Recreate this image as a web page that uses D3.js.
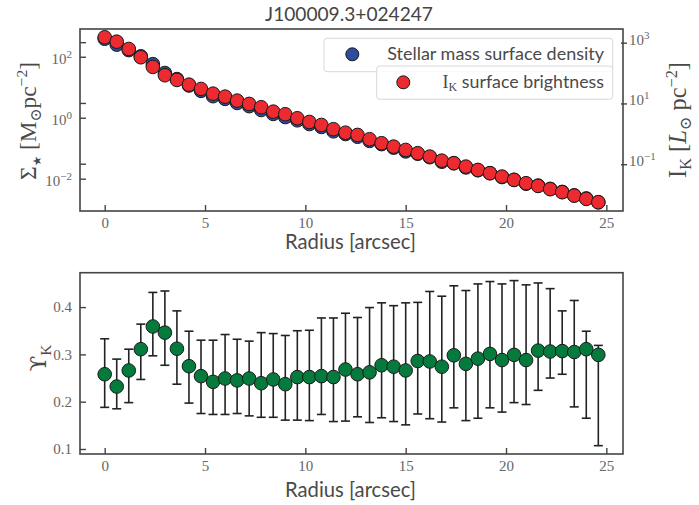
<!DOCTYPE html>
<html><head><meta charset="utf-8">
<script src="https://cdn.jsdelivr.net/npm/d3@7"></script>
<style>
body{margin:0;background:#fff;}
svg{display:block;}
</style></head><body>
<svg id="c" width="699" height="505"></svg>
<script>
const title = "J100009.3+024247";
const radius = [0,0.6,1.2,1.8,2.4,3.0,3.6,4.2,4.8,5.4,6.0,6.6,7.2,7.8,8.4,9.0,9.6,10.2,10.8,11.4,12.0,12.6,13.2,13.8,14.4,15.0,15.6,16.2,16.8,17.4,18.0,18.6,19.2,19.8,20.4,21.0,21.6,22.2,22.8,23.4,24.0,24.6];
const sigmaStar = [389,250,165,103,57.1,29.3,18.5,11.4,7.62,5.08,4.16,3.04,2.40,1.79,1.33,1.05,0.822,0.620,0.498,0.358,0.292,0.237,0.174,0.136,0.104,0.0785,0.0658,0.0507,0.0359,0.0322,0.0234,0.0189,0.0152,0.0113,0.00912,0.00683,0.00594,0.00462,0.00368,0.00283,0.00225,0.00168];
const surfIK = [1507,1079,621,331,159,84.7,59.3,41.5,30.0,21.0,16.7,12.4,9.64,7.50,5.37,4.41,3.26,2.46,1.96,1.42,1.09,0.92,0.664,0.491,0.379,0.295,0.230,0.178,0.131,0.108,0.0834,0.0649,0.0506,0.0391,0.0305,0.0237,0.0193,0.0151,0.0120,0.00927,0.00722,0.00562];
const upsilonK = [0.258,0.232,0.266,0.311,0.359,0.346,0.312,0.275,0.254,0.242,0.249,0.245,0.249,0.239,0.247,0.237,0.252,0.252,0.254,0.252,0.268,0.258,0.262,0.277,0.274,0.266,0.286,0.285,0.274,0.298,0.280,0.291,0.301,0.288,0.299,0.288,0.308,0.306,0.307,0.305,0.311,0.299];
const upsilonHigh = [0.333,0.290,0.311,0.364,0.431,0.434,0.392,0.349,0.330,0.330,0.342,0.332,0.328,0.346,0.344,0.340,0.350,0.351,0.377,0.377,0.387,0.378,0.399,0.409,0.403,0.409,0.410,0.433,0.423,0.445,0.435,0.449,0.454,0.449,0.456,0.447,0.451,0.439,0.392,0.414,0.349,0.319];
const upsilonLow = [0.188,0.185,0.198,0.247,0.297,0.277,0.237,0.197,0.175,0.173,0.173,0.175,0.170,0.167,0.167,0.161,0.161,0.160,0.173,0.158,0.159,0.168,0.156,0.166,0.158,0.151,0.174,0.164,0.157,0.187,0.160,0.165,0.187,0.178,0.198,0.194,0.224,0.250,0.258,0.189,0.165,0.107];
const xTicks = [0,5,10,15,20,25];
const leftExp = [-2,0,2];
const rightExp = [-1,1,3];
const bottomTicks = [0.1,0.2,0.3,0.4];
const legendLabels = ["Stellar mass surface density","surface brightness"];

const colors = {blue:"#2f4c9e", red:"#ec2a30", green:"#047a3d", edge:"#1a1a1a", frame:"#444", tick:"#666", label:"#4a4a4a"};
const sansF = "Lato, 'Open Sans', sans-serif";
const serifF = "'Liberation Serif', 'DejaVu Serif', serif";

const svg = d3.select("#c");
const L = 80, R = 623;
const top1 = 29, bot1 = 211, top2 = 272.7, bot2 = 454;

const x = d3.scaleLinear().domain([-1.23, 25.83]).range([L, R]);
const yL = d3.scaleLog().domain([Math.pow(10,-3.06), Math.pow(10,2.91)]).range([bot1, top1]);
const yR = d3.scaleLog().domain([Math.pow(10,-2.54), Math.pow(10,3.45)]).range([bot1, top1]);
const yB = d3.scaleLinear().domain([0.0894, 0.4727]).range([bot2, top2]);

function fit(t, target){
  const w = t.node().getComputedTextLength();
  const fs = parseFloat(t.attr("font-size"));
  if (w > 0) t.attr("font-size", fs * target / w);
}
function fitRot(t, cx, cy, target){
  const w = t.node().getComputedTextLength();
  const k = w > 0 ? target / w : 1;
  t.attr("transform", `translate(${cx},${cy}) rotate(-90) scale(${k})`);
}

// Title
fit(svg.append("text").attr("x", 349).attr("y", 21).attr("text-anchor","middle")
  .attr("font-family", sansF).attr("font-size", 18.5).attr("fill", "#444").text(title), 168);

function frame(t, b){
  svg.append("rect").attr("x",L).attr("y",t).attr("width",R-L).attr("height",b-t)
    .attr("fill","none").attr("stroke",colors.frame).attr("stroke-width",1.6);
}

function xAxis(b){
  const g = svg.append("g").attr("transform",`translate(0,${b})`)
    .call(d3.axisBottom(x).tickValues(xTicks).tickSize(-6).tickPadding(6).tickFormat(d3.format("d")));
  g.select(".domain").remove();
  g.selectAll(".tick line").attr("stroke",colors.frame).attr("stroke-width",1.4);
  g.selectAll(".tick text").attr("font-family",serifF).attr("font-size",15).attr("fill",colors.tick);
}

function supLabel(sel, base, exp){
  sel.text(null);
  sel.append("tspan").text(base);
  sel.append("tspan").attr("dy",-6).attr("font-size",11).text(exp);
}

// ---------- Top plot ----------
svg.append("g").selectAll("circle").data(radius).join("circle")
  .attr("cx",(d)=>x(d)).attr("cy",(d,i)=>yL(sigmaStar[i])).attr("r",6.8)
  .attr("fill",colors.blue).attr("stroke",colors.edge).attr("stroke-width",1);
svg.append("g").selectAll("circle").data(radius).join("circle")
  .attr("cx",(d)=>x(d)).attr("cy",(d,i)=>yR(surfIK[i])).attr("r",6.8)
  .attr("fill",colors.red).attr("stroke",colors.edge).attr("stroke-width",1);

frame(top1, bot1);
xAxis(bot1);

const gl = svg.append("g").attr("transform",`translate(${L},0)`)
  .call(d3.axisLeft(yL).tickValues(leftExp.map(e=>Math.pow(10,e))).tickSize(-6).tickPadding(8).tickFormat(""));
gl.select(".domain").remove();
gl.selectAll(".tick line").attr("stroke",colors.frame).attr("stroke-width",1.4);
gl.selectAll(".tick text").each(function(d){
  const t = d3.select(this).attr("font-family",serifF).attr("font-size",15).attr("fill",colors.tick).attr("dy","0.45em");
  supLabel(t, "10", (Math.log10(d)<0? "\u2212":"") + Math.abs(Math.round(Math.log10(d))));
});
svg.append("g").selectAll("line").data(rightExp).join("line")
  .attr("x1",L).attr("x2",L+6).attr("y1",d=>yR(Math.pow(10,d))).attr("y2",d=>yR(Math.pow(10,d)))
  .attr("stroke",colors.frame).attr("stroke-width",1.4);

const gr = svg.append("g").attr("transform",`translate(${R},0)`)
  .call(d3.axisRight(yR).tickValues(rightExp.map(e=>Math.pow(10,e))).tickSize(4).tickPadding(2).tickFormat(""));
gr.select(".domain").remove();
gr.selectAll(".tick line").attr("x1",-2).attr("stroke",colors.frame).attr("stroke-width",1.4);
gr.selectAll(".tick text").each(function(d){
  const t = d3.select(this).attr("font-family",serifF).attr("font-size",15).attr("fill",colors.tick).attr("dy","0.1em");
  supLabel(t, "10", (Math.log10(d)<0? "\u2212":"") + Math.abs(Math.round(Math.log10(d))));
});

fit(svg.append("text").attr("x",350.5).attr("y",249).attr("text-anchor","middle")
  .attr("font-family",sansF).attr("font-size",18.5).attr("fill",colors.label).text("Radius [arcsec]"), 131);

const yl = svg.append("text").attr("text-anchor","middle")
  .attr("font-family",serifF).attr("font-size",18).attr("fill",colors.label);
yl.append("tspan").text("\u03A3");
yl.append("tspan").attr("dy",4).attr("font-size",9).attr("font-family","'DejaVu Sans'").text("\u2605");
yl.append("tspan").attr("dy",-4).text(" [M");
yl.append("tspan").attr("dy",4).attr("font-size",12).text("\u2299");
yl.append("tspan").attr("dy",-4).text("pc");
yl.append("tspan").attr("dy",-7).attr("font-size",12).text("\u22122");
yl.append("tspan").attr("dy",7).text("]");
fitRot(yl, 36, 121, 118);

const yr = svg.append("text").attr("text-anchor","middle")
  .attr("font-family",serifF).attr("font-size",18).attr("fill",colors.label);
yr.append("tspan").text("I");
yr.append("tspan").attr("dy",4).attr("font-size",12).text("K");
yr.append("tspan").attr("dy",-4).text(" [");
yr.append("tspan").attr("font-style","italic").text("L");
yr.append("tspan").attr("dy",4).attr("font-size",12).text("\u2299");
yr.append("tspan").attr("dy",-4).text(" pc");
yr.append("tspan").attr("dy",-7).attr("font-size",12).text("\u22122");
yr.append("tspan").attr("dy",7).text("]");
fitRot(yr, 686, 120, 116);

function legend(bx, by, bw, bh, mx, my, col, build){
  svg.append("rect").attr("x",bx).attr("y",by).attr("width",bw).attr("height",bh).attr("rx",3)
    .attr("fill","rgba(255,255,255,0.85)").attr("stroke","#d8d8d8").attr("stroke-width",1);
  svg.append("circle").attr("cx",mx).attr("cy",my).attr("r",6.5).attr("fill",col).attr("stroke",colors.edge).attr("stroke-width",1);
  const t = svg.append("text").attr("x",604).attr("y",my+5.5).attr("text-anchor","end")
    .attr("font-family",sansF).attr("font-size",16.5).attr("fill",colors.label);
  build(t);
  return t;
}
fit(legend(324, 38.3, 288.7, 33.4, 352.3, 54.3, colors.blue, t=>t.text(legendLabels[0])), 217);
legend(376.7, 66, 236, 33.3, 403.3, 82.3, colors.red, t=>{
  t.append("tspan").attr("font-family",serifF).attr("font-size",18).text("I");
  t.append("tspan").attr("font-family",serifF).attr("font-size",12).attr("dy",3).text("K");
  t.append("tspan").attr("dy",-3).attr("font-size",17.8).text(" " + legendLabels[1]);
});

// ---------- Bottom plot ----------
const gE = svg.append("g").attr("stroke","#222").attr("stroke-width",1.6);
radius.forEach((r,i)=>{
  gE.append("line").attr("x1",x(r)).attr("x2",x(r)).attr("y1",yB(upsilonLow[i])).attr("y2",yB(upsilonHigh[i]));
  gE.append("line").attr("x1",x(r)-4.5).attr("x2",x(r)+4.5).attr("y1",yB(upsilonLow[i])).attr("y2",yB(upsilonLow[i]));
  gE.append("line").attr("x1",x(r)-4.5).attr("x2",x(r)+4.5).attr("y1",yB(upsilonHigh[i])).attr("y2",yB(upsilonHigh[i]));
});
svg.append("g").selectAll("circle").data(radius).join("circle")
  .attr("cx",d=>x(d)).attr("cy",(d,i)=>yB(upsilonK[i])).attr("r",6.8)
  .attr("fill",colors.green).attr("stroke",colors.edge).attr("stroke-width",1);

frame(top2, bot2);
xAxis(bot2);
const gb = svg.append("g").attr("transform",`translate(${L},0)`)
  .call(d3.axisLeft(yB).tickValues(bottomTicks).tickSize(-6).tickPadding(8).tickFormat(d3.format(".1f")));
gb.select(".domain").remove();
gb.selectAll(".tick line").attr("stroke",colors.frame).attr("stroke-width",1.4);
gb.selectAll(".tick text").attr("font-family",serifF).attr("font-size",15).attr("fill",colors.tick);

fit(svg.append("text").attr("x",350.5).attr("y",497).attr("text-anchor","middle")
  .attr("font-family",sansF).attr("font-size",18.5).attr("fill",colors.label).text("Radius [arcsec]"), 131);
const yb = svg.append("text").attr("text-anchor","middle")
  .attr("font-family","'DejaVu Serif', serif").attr("font-size",18).attr("fill",colors.label);
yb.append("tspan").text("\u03D2");
yb.append("tspan").attr("dy",4).attr("font-size",12).attr("font-family",serifF).text("K");
fitRot(yb, 46, 358, 27);
</script></body></html>
